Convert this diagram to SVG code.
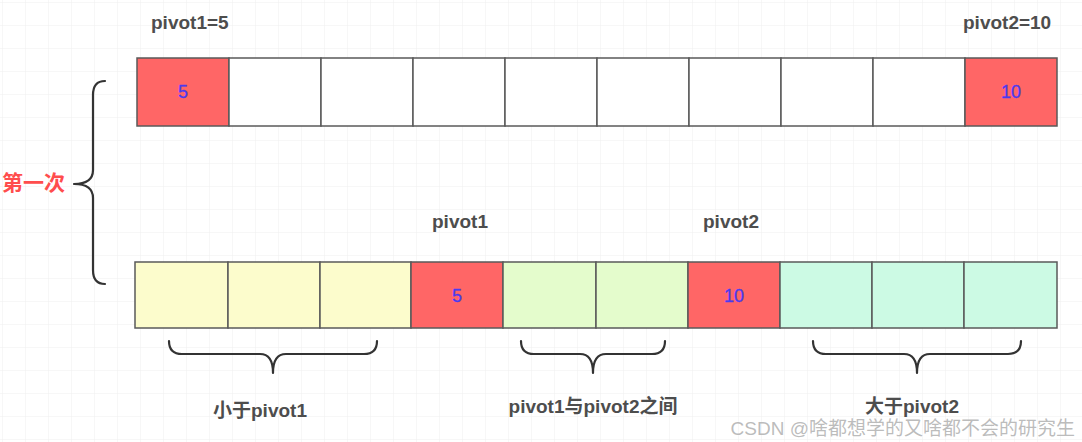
<svg xmlns="http://www.w3.org/2000/svg" width="1082" height="442" viewBox="0 0 1082 442">
<style>
.cell{stroke:#5a5a5a;stroke-width:1.5}
.white{fill:#ffffff}
.red{fill:#ff6666}
.yel{fill:#fcfccc}
.grn{fill:#e4fccc}
.teal{fill:#ccfae4}
.num{font-family:"Liberation Sans",Arial,sans-serif;font-size:18px;fill:#4a3af0;stroke:#4a3af0;stroke-width:0.3;text-anchor:middle}
.lbl{font-family:"Liberation Sans","Noto Sans CJK SC",sans-serif;font-size:19px;font-weight:bold;fill:#4d4d4d}
.brace{fill:none;stroke:#333333;stroke-width:2.2;stroke-linecap:round;stroke-linejoin:round}
</style>
<defs>
<pattern id="grid" width="23" height="23" patternUnits="userSpaceOnUse" x="3" y="3">
<path d="M23 0V23M0 23H23" fill="none" stroke="#efefef" stroke-width="1"/>
</pattern>
</defs>
<rect width="1082" height="442" fill="#ffffff"/>
<rect width="1082" height="442" fill="url(#grid)"/>

<g id="top-row">
<rect class="cell red" x="137" y="58" width="92" height="68"/>
<rect class="cell white" x="229" y="58" width="92" height="68"/>
<rect class="cell white" x="321" y="58" width="92" height="68"/>
<rect class="cell white" x="413" y="58" width="92" height="68"/>
<rect class="cell white" x="505" y="58" width="92" height="68"/>
<rect class="cell white" x="597" y="58" width="92" height="68"/>
<rect class="cell white" x="689" y="58" width="92" height="68"/>
<rect class="cell white" x="781" y="58" width="92" height="68"/>
<rect class="cell white" x="873" y="58" width="92" height="68"/>
<rect class="cell red" x="965" y="58" width="92" height="68"/>
<text class="num" x="183" y="98">5</text>
<text class="num" x="1011" y="98">10</text>
</g>

<g id="bottom-row">
<rect class="cell yel" x="135" y="262" width="93" height="66"/>
<rect class="cell yel" x="228" y="262" width="92" height="66"/>
<rect class="cell yel" x="320" y="262" width="91" height="66"/>
<rect class="cell red" x="411" y="262" width="92" height="66"/>
<rect class="cell grn" x="503" y="262" width="93" height="66"/>
<rect class="cell grn" x="596" y="262" width="92" height="66"/>
<rect class="cell red" x="688" y="262" width="92" height="66"/>
<rect class="cell teal" x="780" y="262" width="92" height="66"/>
<rect class="cell teal" x="872" y="262" width="92" height="66"/>
<rect class="cell teal" x="964" y="262" width="93" height="66"/>
<text class="num" x="457" y="302">5</text>
<text class="num" x="734" y="302">10</text>
</g>

<g id="labels">
<text class="lbl" x="151" y="29">pivot1=5</text>
<text class="lbl" x="963" y="29">pivot2=10</text>
<text class="lbl" x="432" y="228">pivot1</text>
<text class="lbl" x="703" y="228">pivot2</text>
<text x="2" y="190" style="font-family:'Noto Sans CJK SC',sans-serif;font-size:21px;font-weight:bold;fill:#ff4d4d">第一次</text>
</g>

<g id="connectors">
<path class="brace" d="M105 81 Q93 81 93 95 V170 Q93 184 74 184 Q93 184 93 198 V270 Q93 284 105 284"/>
<path class="brace" d="M169 341 Q169 354 182 354 H260 Q273 354 273 373 Q273 354 286 354 H364 Q377 354 377 341"/>
<path class="brace" d="M521 341 Q521 354 534 354 H580 Q593 354 593 373 Q593 354 606 354 H652 Q665 354 665 341"/>
<path class="brace" d="M813 341 Q813 354 826 354 H904 Q917 354 917 373 Q917 354 930 354 H1008 Q1021 354 1021 341"/>
</g>

<g id="bottom-labels">
<text class="lbl" x="260" y="417" text-anchor="middle">小于pivot1</text>
<text class="lbl" x="593" y="413" text-anchor="middle">pivot1与pivot2之间</text>
<text class="lbl" x="912" y="413" text-anchor="middle">大于pivot2</text>
</g>

<text x="1075" y="435" text-anchor="end" style="font-family:'Liberation Sans','Noto Sans CJK SC',sans-serif;font-size:19px;fill:#b0b0b0;fill-opacity:0.85">CSDN @啥都想学的又啥都不会的研究生</text>
</svg>
